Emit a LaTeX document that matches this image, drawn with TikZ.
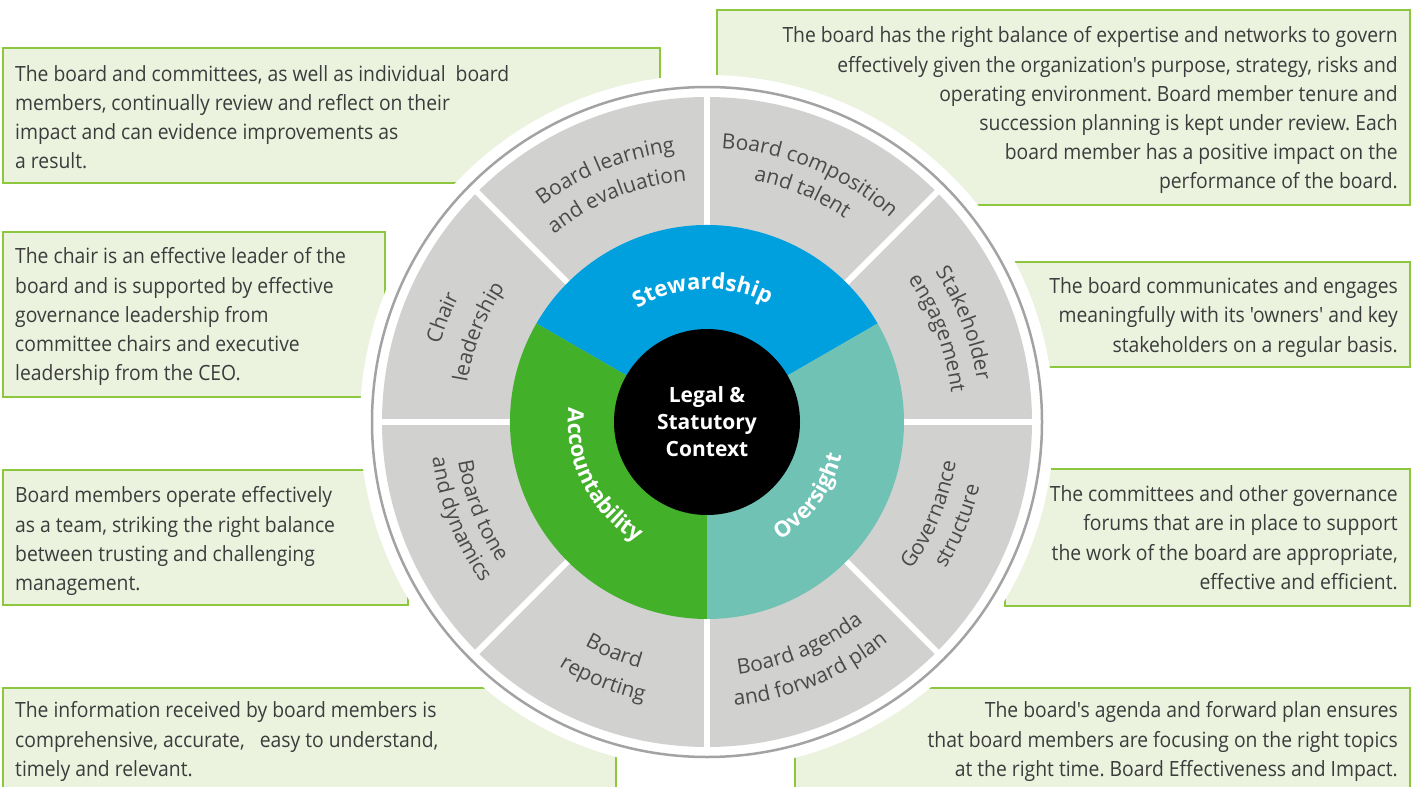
\documentclass[tikz,border=0pt]{standalone}
\usepackage{fontspec}
\setmainfont{Open Sans}
\newfontfamily\boxfont[FakeStretch=0.92,Ligatures=TeXOff]{Open Sans}
\usetikzlibrary{decorations.text}
\frenchspacing

\definecolor{boxfill}{HTML}{EBF3DF}
\definecolor{boxline}{HTML}{8DC63F}
\definecolor{segfill}{HTML}{D1D1D0}
\definecolor{rimline}{HTML}{A3A3A3}
\definecolor{stewblue}{HTML}{00A0DF}
\definecolor{accgreen}{HTML}{43B02A}
\definecolor{ovteal}{HTML}{6FC2B4}
\definecolor{boxtext}{HTML}{3C3C3C}
\definecolor{labeltext}{HTML}{4A4A4A}

\newcommand\segfont{\fontsize{21}{25}\selectfont\color{labeltext}}
\newcommand\ringfont{\bfseries\fontsize{22}{26}\selectfont\color{white}}

% curved labels: clockwise runs have letter tops facing outwards,
% counter-clockwise runs have letter tops facing the centre
\newcommand\cwlabel[4]{\path[arclabel={|#1|#4}] (C) ++(#2+45:#3) arc[start angle=#2+45, end angle=#2-45, radius=#3];}
\newcommand\ccwlabel[4]{\path[arclabel={|#1|#4}] (C) ++(#2-45:#3) arc[start angle=#2-45, end angle=#2+45, radius=#3];}

\begin{document}
\begin{tikzpicture}[x=1pt,y=1pt,
  panel/.style={fill=boxfill, draw=boxline, line width=2},
  paneltext/.style={font=\boxfont\fontsize{21}{29.2}\selectfont, text=boxtext, inner sep=0},
  arclabel/.style={decorate, decoration={text along path, text align=center, text={#1}}}
]
\useasboundingbox (0,0) rectangle (1417,-787);
\clip (0,0) rectangle (1417,-787);
\fill[white] (0,0) rectangle (1417,-787);

% description panels
\draw[panel] (3,-48) rectangle (660,-183);
\draw[panel] (717,-10) rectangle (1410,-205);
\draw[panel] (3,-232) rectangle (385,-397);
\draw[panel] (1000,-262) rectangle (1410,-367);
\draw[panel] (3,-470) rectangle (408,-605);
\draw[panel] (1005,-469) rectangle (1410,-606);
\draw[panel] (3,-688) rectangle (616,-800);
\draw[panel] (795,-688) rectangle (1410,-800);

% wheel
\coordinate (C) at (707,-422);
\fill[white] (C) circle[radius=347];
\draw[rimline, line width=2.5] (C) circle[radius=335];
\fill[segfill] (C) circle[radius=325];
\foreach \a in {0,45,...,315}
  \draw[white, line width=6] (C) -- ++(\a:330);

\fill[stewblue] (C) -- ++(30:197) arc[start angle=30, end angle=150, radius=197] -- cycle;
\fill[accgreen] (C) -- ++(150:197) arc[start angle=150, end angle=270, radius=197] -- cycle;
\fill[ovteal] (C) -- ++(270:197) arc[start angle=270, end angle=390, radius=197] -- cycle;

\node[circle, fill=black, minimum size=186, inner sep=0, align=center,
      text=white, font=\bfseries\fontsize{21}{27}\selectfont] (legal) at (C)
  {Legal \&\\Statutory\\Context};

% ring labels
\cwlabel{\ringfont}{92}{133}{Stewardship}
\ccwlabel{\ringfont}{207}{139}{Accountability}
\ccwlabel{\ringfont}{-36}{139}{Oversight}

% segment labels
\cwlabel{\segfont}{112}{272}{Board learning}
\cwlabel{\segfont}{112}{242}{and evaluation}
\cwlabel{\segfont}{67.5}{274}{Board composition}
\cwlabel{\segfont}{67.5}{246}{and talent}
\cwlabel{\segfont}{21}{273}{Stakeholder}
\cwlabel{\segfont}{21}{246}{engagement}
\ccwlabel{\segfont}{-22.5}{252}{Governance}
\ccwlabel{\segfont}{-22.5}{280}{structure}
\ccwlabel{\segfont}{-67.5}{254}{Board agenda}
\ccwlabel{\segfont}{-67.5}{285}{and forward plan}
\ccwlabel{\segfont}{-112}{255}{Board}
\ccwlabel{\segfont}{-112}{286}{reporting}
\ccwlabel{\segfont}{201.5}{252}{Board tone}
\ccwlabel{\segfont}{201.5}{277}{and dynamics}
\cwlabel{\segfont}{158.5}{278}{Chair}
\cwlabel{\segfont}{158.5}{243}{leadership}

% panel texts
\node[paneltext, anchor=north west, align=left] (learn) at (15,-65)
  {The board and committees, as well as individual\ \ board\\members, continually review and reflect on their\\impact and can evidence improvements as\\a result.};
\node[paneltext, anchor=north east, align=right] (comp) at (1398,-26.6)
  {The board has the right balance of expertise and networks to govern\\effectively given the organization's purpose, strategy, risks and\\operating environment. Board member tenure and\\succession planning is kept under review. Each\\board member has a positive impact on the\\performance of the board.};
\node[paneltext, anchor=north west, align=left] (chair) at (15,-247.6)
  {The chair is an effective leader of the\\board and is supported by effective\\governance leadership from\\committee chairs and executive\\leadership from the CEO.};
\node[paneltext, anchor=north east, align=right] (stake) at (1398,-277.6)
  {The board communicates and engages\\meaningfully with its 'owners' and key\\stakeholders on a regular basis.};
\node[paneltext, anchor=north west, align=left] (tone) at (15,-486.6)
  {Board members operate effectively\\as a team, striking the right balance\\between trusting and challenging\\management.};
\node[paneltext, anchor=north east, align=right] (gov) at (1398,-485.6)
  {The committees and other governance\\forums that are in place to support\\the work of the board are appropriate,\\effective and efficient.};
\node[paneltext, anchor=north west, align=left] (report) at (15,-701.6)
  {The information received by board members is\\comprehensive, accurate,\ \ \ easy to understand,\\timely and relevant.};
\node[paneltext, anchor=north east, align=right] (agenda) at (1398,-701.6)
  {The board's agenda and forward plan ensures\\that board members are focusing on the right topics\\at the right time. Board Effectiveness and Impact.};
\end{tikzpicture}
\end{document}
